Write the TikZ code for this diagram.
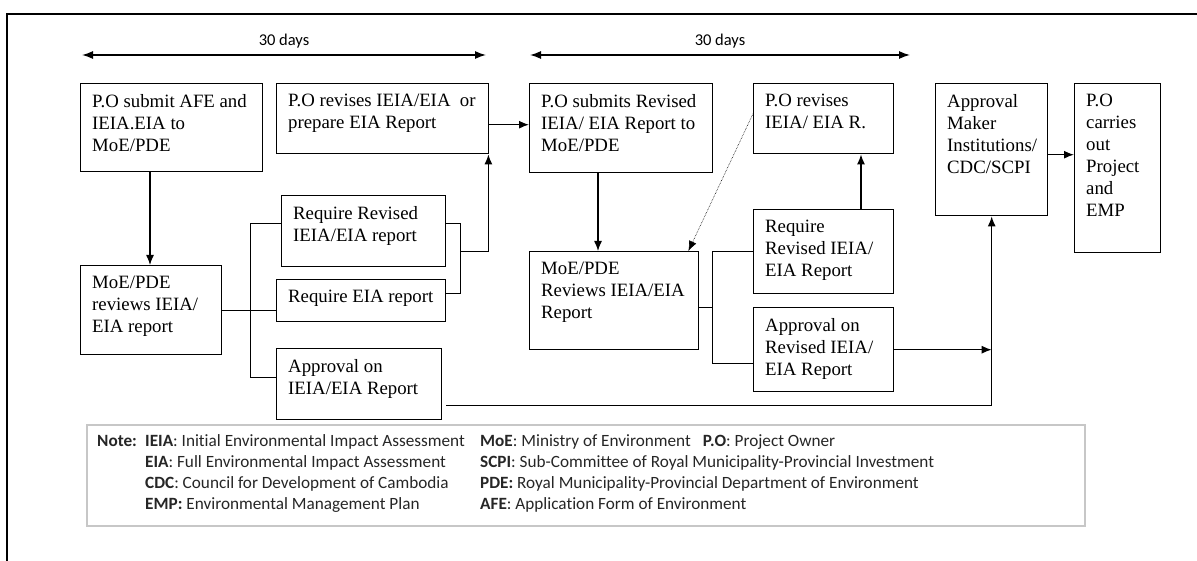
\documentclass[tikz,border=0pt]{standalone}
\usepackage{fontspec}
\setmainfont{Liberation Serif}
\newfontfamily\notefont[Ligatures=NoCommon]{Carlito}
\usetikzlibrary{positioning}
\usetikzlibrary{calc}
\usetikzlibrary{arrows.meta}

\tikzset{
    box/.style={draw, line width=1.4pt, anchor=north west, inner sep=0pt},
    boxtext/.style={anchor=north west, align=left, inner xsep=12pt, inner ysep=11pt,
        font=\fontsize{18.8}{22}\selectfont},
    link/.style={line width=1.3pt},
    arr/.style={link, -{Latex[length=10pt,width=8pt]}},
    span/.style={link, {Latex[length=11pt,width=8pt]}-{Latex[length=11pt,width=8pt]}},
    frame/.style={line width=2.5pt},
    notebox/.style={draw=black!22, line width=1.5pt, anchor=north west, inner sep=0pt},
}

\begin{document}
\begin{tikzpicture}[x=1pt, y=-1pt]

\useasboundingbox (0,0) rectangle (1197,561);

% Outer frame
\draw [frame] (7,561) -- (7,14) -- (1197,14);

% Time spans
\coordinate (days1 left) at (82,55);
\coordinate (days1 right) at (486,55);
\coordinate (days2 left) at (530,55);
\coordinate (days2 right) at (910,55);
\draw [span] (days1 left) -- node [above=3pt, font=\notefont\fontsize{16.5}{19}\selectfont] {30 days} (days1 right);
\draw [span] (days2 left) -- node [above=3pt, font=\notefont\fontsize{16.5}{19}\selectfont] {30 days} (days2 right);

% First review round
\node [box, minimum width=182pt, minimum height=88pt,
    label={[boxtext]north west:P.O submit AFE and\\IEIA.EIA to\\MoE/PDE}] (submit) at (80,83) {};
\node [box, minimum width=212pt, minimum height=70pt,
    label={[boxtext]north west:P.O revises IEIA/EIA\ \ or\\prepare EIA Report}] (revise1) at (276,83) {};
\node [box, minimum width=141pt, minimum height=89pt,
    label={[boxtext]north west:MoE/PDE\\reviews IEIA/\\EIA report}] (review1) at (80,265) {};
\node [box, minimum width=164pt, minimum height=71pt,
    label={[boxtext]north west:Require Revised\\IEIA/EIA report}] (reqrev1) at (281,195) {};
\node [box, minimum width=169pt, minimum height=42pt,
    label={[boxtext]north west:Require EIA report}] (reqeia) at (276,279) {};
\node [box, minimum width=165pt, minimum height=71pt,
    label={[boxtext]north west:Approval on\\IEIA/EIA Report}] (approve1) at (276,348) {};

% Second review round
\node [box, minimum width=183pt, minimum height=89pt,
    label={[boxtext]north west:P.O submits Revised\\IEIA/ EIA Report to\\MoE/PDE}] (submit2) at (529,83) {};
\node [box, minimum width=140pt, minimum height=70pt,
    label={[boxtext]north west:P.O revises\\IEIA/ EIA R.}] (revise2) at (753,83) {};
\node [box, minimum width=169pt, minimum height=98pt,
    label={[boxtext]north west:MoE/PDE\\Reviews IEIA/EIA\\Report}] (review2) at (529,251) {};
\node [box, minimum width=140pt, minimum height=84pt,
    label={[boxtext]north west:Require\\Revised IEIA/\\EIA Report}] (reqrev2) at (753,209) {};
\node [box, minimum width=140pt, minimum height=84pt,
    label={[boxtext]north west:Approval on\\Revised IEIA/\\EIA Report}] (approve2) at (753,307) {};

% Approval and project
\node [box, minimum width=112pt, minimum height=132pt,
    label={[boxtext]north west:Approval\\Maker\\Institutions/\\CDC/SCPI}] (maker) at (935,83) {};
\node [box, minimum width=86pt, minimum height=169pt,
    label={[boxtext]north west:P.O\\carries\\out\\Project\\and\\EMP}] (carry) at (1074,83) {};

% Connectors
\draw [arr] ([xshift=70pt]submit.south west) -- ([xshift=70pt]review1.north west);
\draw [link] (review1.east) -- ++(28,0) coordinate (bus1);
\draw [link] ([yshift=7.5pt]reqrev1.west) -| (bus1) |- ([yshift=6.5pt]approve1.west);
\draw [link] (bus1) -- (bus1 -| reqeia.west);
\draw [link] ([yshift=7.5pt]reqrev1.east) -- ++(14,0) coordinate (join1)
    -- ++(0,28) coordinate (join2) |- ([yshift=7pt]reqeia.east);
\draw [arr] (join2) -| ([xshift=-1pt]revise1.south east);
\draw [arr] ([yshift=-6pt]revise1.east) -- ([yshift=-6pt]revise1.east -| submit2.west);

\draw [arr] ([xshift=69pt]submit2.south west) -- ([xshift=69pt]review2.north west);
\draw [arr, line width=0.6pt, densely dotted] ([yshift=5pt]revise2.west) -- ([xshift=-11pt]review2.north east);
\draw [link] ([yshift=-7pt]review2.east) -- ++(13,0) coordinate (bus2);
\draw [link] (reqrev2.west) -| (bus2) |- ([yshift=-14pt]approve2.west);
\draw [arr] ([xshift=108pt]reqrev2.north west) -- ([xshift=108pt]revise2.south west);

\draw [arr] ([xshift=4pt,yshift=-21.5pt]approve1.east) -| (maker.south);
\draw [arr] (approve2.east) -- (approve2.east -| maker.south);
\draw [arr] ([yshift=-5pt]maker.east) -- ([yshift=-5pt]maker.east -| carry.west);

% Abbreviations
\node [notebox, minimum width=998pt, minimum height=101pt] (note) at (86,424) {};
\node [anchor=north west, inner sep=0pt, text=black!85, font=\notefont\fontsize{17.2}{21}\selectfont]
    (legend) at ([xshift=11pt,yshift=-8pt]note.north west) {%
    \begin{tabular}{@{}p{48pt}@{}p{335pt}@{}l@{}}
    \textbf{Note:} & \textbf{IEIA}: Initial Environmental Impact Assessment &
        \textbf{MoE}: Ministry of Environment\hspace{12pt}\textbf{P.O}: Project Owner\\
    & \textbf{EIA}: Full Environmental Impact Assessment &
        \textbf{SCPI}: Sub-Committee of Royal Municipality-Provincial Investment\\
    & \textbf{CDC}: Council for Development of Cambodia &
        \textbf{PDE:} Royal Municipality-Provincial Department of Environment\\
    & \textbf{EMP:} Environmental Management Plan &
        \textbf{AFE}: Application Form of Environment
    \end{tabular}};

\end{tikzpicture}
\end{document}
